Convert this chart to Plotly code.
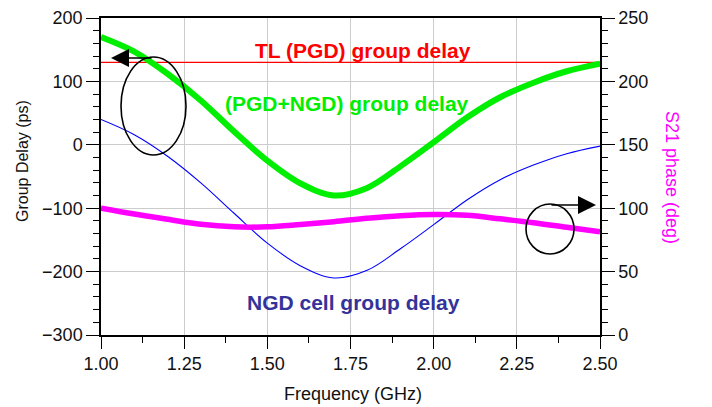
import plotly.graph_objects as go

# ---------------- data ----------------
freq_ghz = [1.0, 1.1, 1.2, 1.3, 1.4, 1.5, 1.6, 1.7, 1.8, 1.9, 2.0, 2.1, 2.2, 2.3, 2.4, 2.5]
ngd_cell_delay = [40, 16, -18, -60, -108, -155, -191, -210, -198, -164, -126, -87, -55, -32, -14, -2]
pgd_ngd_delay = [170, 147, 112, 70, 21, -25, -61, -80, -68, -34, 4, 43, 75, 98, 116, 128]
s21_phase = [100, 95.4, 91.3, 87.3, 85.3, 85.3, 87.2, 89.4, 92, 94, 95, 94.4, 91.6, 88.6, 85, 81.5]
tl_freq = [1.0, 2.5]
tl_delay = [130, 130]

x_ticks = [1.0, 1.25, 1.5, 1.75, 2.0, 2.25, 2.5]
y_ticks = [-300, -200, -100, 0, 100, 200]
y2_ticks = [0, 50, 100, 150, 200, 250]

FONT = "Liberation Sans"

# page has an 8px body margin: work in page pixels, convert to figure pixels
OFF = 8
PAGE_W, PAGE_H = 712, 407
W, H = PAGE_W - OFF, PAGE_H - OFF
L, R, T, B = 101 - OFF, 600 - OFF, 18 - OFF, 335 - OFF


def px(x):
    return (x - OFF - L) / (R - L)


def py(y):
    return (B - (y - OFF)) / (B - T)


fig = go.Figure()

fig.add_trace(go.Scatter(x=tl_freq, y=tl_delay, mode="lines",
                         line=dict(color="#ff0000", width=1.3)))
fig.add_trace(go.Scatter(x=freq_ghz, y=ngd_cell_delay, mode="lines",
                         line=dict(color="#0000ff", width=1.1, shape="spline", smoothing=1.0)))
fig.add_trace(go.Scatter(x=freq_ghz, y=s21_phase, mode="lines", yaxis="y2",
                         line=dict(color="#ff00ff", width=5.5, shape="spline", smoothing=1.0)))
fig.add_trace(go.Scatter(x=freq_ghz, y=pgd_ngd_delay, mode="lines",
                         line=dict(color="#00ee00", width=6, shape="spline", smoothing=1.0)))

axis_common = dict(
    showline=True, linecolor="black", linewidth=1.5,
    ticks="outside", tickcolor="black", tickwidth=1.3,
    tickfont=dict(family=FONT, size=18, color="#111111"),
    zeroline=False, automargin=False,
)

fig.update_layout(
    width=W, height=H,
    margin=dict(l=L, r=W - R, t=T, b=H - B, pad=0),
    paper_bgcolor="white", plot_bgcolor="white",
    showlegend=False,
    xaxis=dict(
        range=[1.0, 2.5], tickvals=x_ticks, tickformat=".2f",
        ticklen=12, mirror=True,
        showgrid=True, gridcolor="#cccccc", gridwidth=1.2,
        minor=dict(dtick=0.125, ticklen=6, ticks="outside", tickcolor="black", showgrid=False),
        **axis_common,
    ),
    yaxis=dict(
        range=[-300, 200], tickvals=y_ticks, ticklen=13,
        showgrid=True, gridcolor="#cccccc", gridwidth=1.2,
        minor=dict(dtick=20, ticklen=6, ticks="outside", tickcolor="black", showgrid=False),
        **axis_common,
    ),
    yaxis2=dict(
        range=[0, 250], tickvals=y2_ticks, ticklen=13, overlaying="y", side="right",
        showgrid=False,
        minor=dict(dtick=10, ticklen=6, ticks="outside", tickcolor="black", showgrid=False),
        **axis_common,
    ),
)

annotations = [
    # axis titles
    dict(text="Group Delay (ps)", x=px(22), y=py(161), textangle=-90,
         font=dict(family=FONT, size=16, color="#111111")),
    dict(text="S21 phase (deg)", x=px(672), y=py(177), textangle=90,
         font=dict(family=FONT, size=18, color="#ff00ff")),
    dict(text="Frequency (GHz)", x=px(352.5), y=py(394),
         font=dict(family=FONT, size=18, color="#111111")),
    # curve labels
    dict(text="<b>TL (PGD) group delay</b>", x=px(362.5), y=py(50),
         font=dict(family=FONT, size=21, color="#ff0000")),
    dict(text="<b>(PGD+NGD) group delay</b>", x=px(347), y=py(103.5),
         font=dict(family=FONT, size=21, color="#00ee00")),
    dict(text="<b>NGD cell group delay</b>", x=px(353.5), y=py(302),
         font=dict(family=FONT, size=21, color="#33339a")),
]
for a in annotations:
    a.update(xref="paper", yref="paper", showarrow=False, xanchor="center", yanchor="middle")

arrows = [
    dict(x=px(111), y=py(58), ax=153 - 111, ay=0),
    dict(x=px(596), y=py(205), ax=550 - 596, ay=0),
]
for a in arrows:
    a.update(xref="paper", yref="paper", text="", showarrow=True,
             arrowhead=2, arrowsize=2.4, arrowwidth=1.5, arrowcolor="black")

fig.update_layout(annotations=annotations + arrows)

fig.add_shape(type="circle", xref="paper", yref="paper",
              x0=px(121), x1=px(186), y0=py(155), y1=py(57),
              line=dict(color="black", width=1.6))
fig.add_shape(type="circle", xref="paper", yref="paper",
              x0=px(526), x1=px(574), y0=py(254), y1=py(204),
              line=dict(color="black", width=1.6))

fig.write_html("out.html")
